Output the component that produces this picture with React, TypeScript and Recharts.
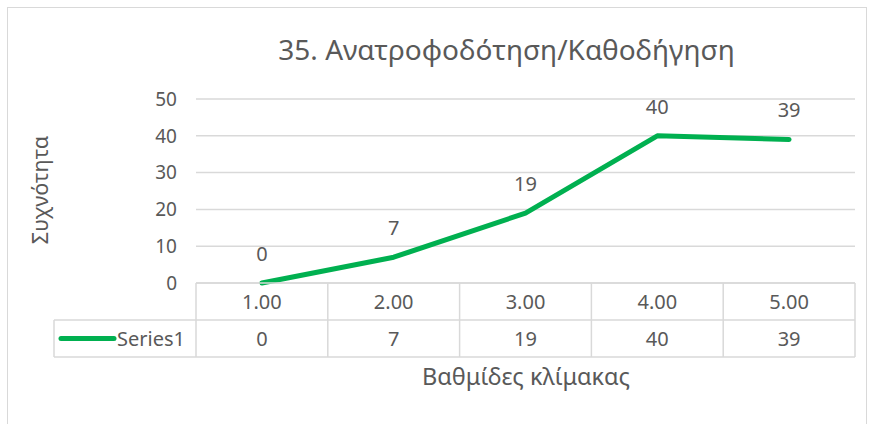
import { LineChart, Line, XAxis, YAxis, CartesianGrid, LabelList } from 'recharts';

const categories = ['1.00', '2.00', '3.00', '4.00', '5.00'];
const frequencies = [0, 7, 19, 40, 39];
const yTicks = [0, 10, 20, 30, 40, 50];
const seriesName = 'Series1';
const chartTitle = '35. Ανατροφοδότηση/Καθοδήγηση';
const yTitle = 'Συχνότητα';
const xTitle = 'Βαθμίδες κλίμακας';

const W = 872;
const H = 424;
const PLOT_LEFT = 196;
const PLOT_RIGHT = 855;
const PLOT_TOP = 99;
const PLOT_BOTTOM = 283;
const Y_AXIS_W = 40;
const X_AXIS_H = 100;
const ROW_H = 37;
const LEGEND_LEFT = 54;
const BAND_W = (PLOT_RIGHT - PLOT_LEFT) / categories.length;

const GREEN = '#00B050';
const TEXT = '#595959';
const BORDER = '#d9d9d9';
const FONT = '"Noto Sans", sans-serif';

const data = categories.map((cat, i) => ({ cat, value: frequencies[i] }));

// x-axis ticks double as the data table underneath the plot
function TableTick(props: any) {
  const { x, y, payload, index } = props;
  const i = payload?.index ?? index;
  const left = x - BAND_W / 2;
  const last = i === categories.length - 1;
  return (
    <g>
      {i === 0 && (
        <g>
          <line x1={PLOT_LEFT} y1={y} x2={PLOT_RIGHT} y2={y} stroke={BORDER} strokeWidth={1.5} />
          <line x1={LEGEND_LEFT} y1={y + ROW_H} x2={PLOT_RIGHT} y2={y + ROW_H} stroke={BORDER} strokeWidth={1.5} />
          <line x1={LEGEND_LEFT} y1={y + 2 * ROW_H} x2={PLOT_RIGHT} y2={y + 2 * ROW_H} stroke={BORDER} strokeWidth={1.5} />
          <line x1={LEGEND_LEFT} y1={y + ROW_H} x2={LEGEND_LEFT} y2={y + 2 * ROW_H} stroke={BORDER} strokeWidth={1.5} />
          <line
            x1={61}
            y1={y + 1.5 * ROW_H}
            x2={114}
            y2={y + 1.5 * ROW_H}
            stroke={GREEN}
            strokeWidth={5}
            strokeLinecap="round"
          />
          <text x={117} y={y + 1.5 * ROW_H} dy="0.35em" fill={TEXT} fontSize={20} fontFamily={FONT}>
            {seriesName}
          </text>
        </g>
      )}
      <line x1={left} y1={y} x2={left} y2={y + 2 * ROW_H} stroke={BORDER} strokeWidth={1.5} />
      {last && (
        <line x1={left + BAND_W} y1={y} x2={left + BAND_W} y2={y + 2 * ROW_H} stroke={BORDER} strokeWidth={1.5} />
      )}
      <text x={x} y={y + ROW_H / 2} dy="0.35em" textAnchor="middle" fill={TEXT} fontSize={20} fontFamily={FONT}>
        {payload.value}
      </text>
      <text x={x} y={y + 1.5 * ROW_H} dy="0.35em" textAnchor="middle" fill={TEXT} fontSize={20} fontFamily={FONT}>
        {frequencies[i]}
      </text>
    </g>
  );
}

export default function App() {
  return (
    <div
      style={{
        position: 'fixed',
        left: 0,
        top: 0,
        width: W,
        height: H,
        overflow: 'hidden',
        background: '#fff',
        fontFamily: FONT,
      }}
    >
      <div
        style={{
          position: 'absolute',
          left: 7,
          top: 7,
          width: 858,
          height: H,
          border: `1px solid ${BORDER}`,
        }}
      />
      <div
        style={{
          position: 'absolute',
          left: 0,
          top: 31,
          width: 1013,
          textAlign: 'center',
          fontSize: 28,
          color: TEXT,
          lineHeight: '36px',
        }}
      >
        {chartTitle}
      </div>
      <div style={{ position: 'absolute', left: 0, top: 0 }}>
        <LineChart
          width={W}
          height={H}
          data={data}
          margin={{
            top: PLOT_TOP,
            right: W - PLOT_RIGHT,
            bottom: H - PLOT_BOTTOM - X_AXIS_H,
            left: PLOT_LEFT - Y_AXIS_W,
          }}
        >
          <CartesianGrid vertical={false} stroke={BORDER} strokeWidth={1.5} />
          <XAxis
            dataKey="cat"
            height={X_AXIS_H}
            interval={0}
            padding={{ left: BAND_W / 2, right: BAND_W / 2 }}
            axisLine={false}
            tickLine={false}
            tickSize={0}
            tickMargin={0}
            tick={<TableTick />}
            label={() => (
              <text x={526} y={377} dy="0.35em" textAnchor="middle" fill={TEXT} fontSize={23.5} fontFamily={FONT}>
                {xTitle}
              </text>
            )}
          />
          <YAxis
            width={Y_AXIS_W}
            domain={[0, 50]}
            ticks={yTicks}
            axisLine={false}
            tickLine={false}
            tickSize={0}
            tickMargin={19}
            tick={{ fill: TEXT, fontSize: 19, fontFamily: FONT }}
            label={() => (
              <text
                x={40}
                y={190}
                dy="0.35em"
                textAnchor="middle"
                fill={TEXT}
                fontSize={21.5}
                fontFamily={FONT}
                transform="rotate(-90 40 190)"
              >
                {yTitle}
              </text>
            )}
          />
          <Line
            type="linear"
            dataKey="value"
            name={seriesName}
            stroke={GREEN}
            strokeWidth={5}
            strokeLinecap="round"
            strokeLinejoin="round"
            dot={false}
            activeDot={false}
            isAnimationActive={false}
          >
            <LabelList dataKey="value" position="top" offset={22} fill={TEXT} fontSize={20} fontFamily={FONT} />
          </Line>
        </LineChart>
      </div>
    </div>
  );
}
